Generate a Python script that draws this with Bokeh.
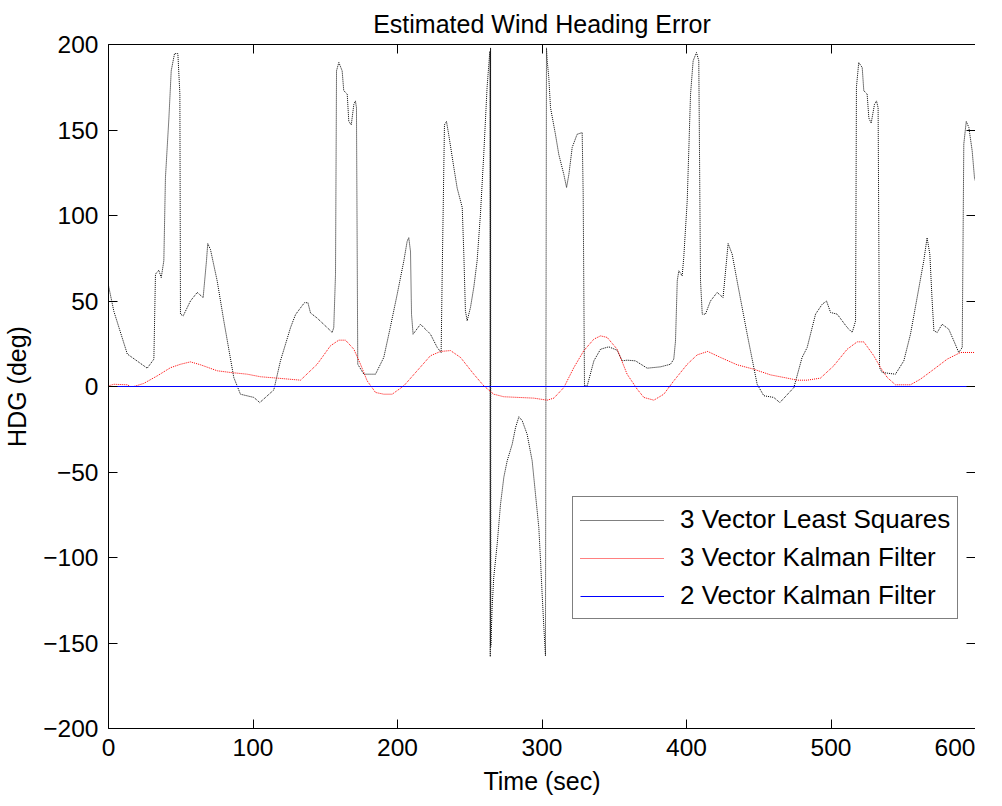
from bokeh.plotting import figure
from bokeh.models import FixedTicker, LinearAxis, Legend, LegendItem, Range1d
from bokeh.embed import file_html
from bokeh.resources import INLINE

# ---- data ----
x_ticks = [0, 100, 200, 300, 400, 500, 600]
y_ticks = [-200, -150, -100, -50, 0, 50, 100, 150, 200]

t_ls = [0, 3.7, 13, 26.8, 31.4, 32.5, 34.8, 36.5, 38.3, 39.4, 41.8, 43.4, 45.7, 48, 49.4, 49.8,
        51.7, 56.7, 61.4, 65.5, 67.8, 68.7, 70.6, 75.2, 79.8, 86.7, 91.3, 100.6, 104.7, 114.4,
        119, 126, 129.4, 132.9, 135.6, 138, 139.8, 144.4, 152.5, 154.8, 155.9, 157.1, 157.8,
        159.4, 161.7, 162.8, 165.2, 166.3, 168, 169.8, 170.9, 171.6, 172.5, 176.7, 184.8, 190.5,
        195, 199.8, 204.4, 206.7, 207.8, 209, 209.7, 210.8, 215.9, 222.8, 227.5, 230.2, 230.9,
        232.5, 233.9, 235.5, 239, 241.3, 244.8, 245.9, 247, 248.2, 250.5, 252.8, 255.1, 257.4,
        259.7, 262, 263.9, 264.2, 264.4, 264.6, 265.5, 266.6, 269, 271.3, 273.6, 275.9, 279.4,
        281.7, 284, 286.3, 289.7, 293.2, 295.5, 297.8, 299, 300.1, 301.3, 302.4, 303.1, 303.6,
        304.7, 305.9, 309.3, 311.6, 315.1, 317, 318.6, 320.9, 324.3, 327.8, 328.5, 329.4, 331.3,
        335.9, 340.5, 346.2, 352, 355.5, 358.9, 364.7, 372.8, 382, 388.9, 391.2, 392.4, 393.6,
        394.7, 397, 398.1, 400.5, 402.8, 404.6, 406.9, 408.5, 409.7, 410.9, 413.1, 416.6, 421.2,
        425.3, 427.7, 428.8, 431.6, 435, 442, 448.9, 453.5, 460.4, 464.6, 474.3, 480, 483.5,
        489.3, 493.9, 496.9, 499.7, 504.3, 511.2, 514.7, 517, 517.6, 519.2, 521.6, 522.7, 525,
        526.2, 527.8, 530.1, 531.5, 532.6, 533.6, 535.4, 544.6, 550.4, 555, 559.6, 564.2, 566.5,
        568.4, 570, 571.2, 573.5, 576.9, 581.5, 585, 588.4, 590.8, 591.9, 593.6, 595.4, 597.7,
        599.3, 600]
v_ls = [59, 44, 19, 10.7, 16, 65.7, 68, 63.7, 73.6, 122, 157, 184.6, 194.7, 194.7, 171, 42.3,
        41.3, 50, 55, 52, 73.5, 83.6, 80, 61.8, 38.4, 5.3, -4.5, -6.4, -9.4, -2,
        15, 34.5, 42, 46, 49, 49, 43, 40, 33.5, 31.6, 34.5, 65.7, 184.6,
        189.5, 184.6, 173, 171, 155, 153, 165, 167, 163, 13, 7.2, 7.2, 17,
        34.5, 54, 73.5, 85, 87, 79, 42.3, 30.6, 36.4, 30.6, 22.8, 19.9, 63.7,
        153, 155, 147, 128, 116, 104.7, 77.4, 44.3, 38.4, 46.2, 58, 73.5, 100.8,
        135.8, 175, 196, -158, 198, -152, -129, -111.7, -92, -68.8, -53, -43.5, -33.7,
        -24, -17.7, -20, -27.9, -43.5, -63, -82.5, -102, -121.5, -141, -157.5, 198, 190.5,
        180.7, 163, 147.5, 135.8, 124, 116.4, 124, 139.8, 147.5, 148.5, 112.5, 0.4, 0.4,
        15, 21.8, 23.2, 21.2, 15, 15.4, 15, 10.7, 11.5, 13, 16, 26.7, 61.8,
        67.7, 64.7, 75.4, 108.6, 171, 190.5, 195.3, 190.5, 61.8, 42.3, 42.3, 50, 55,
        52, 73.5, 83.6, 77.4, 61.8, 30.6, 1.3, -5.4, -6.4, -9.4, -0.6, 17, 22.8,
        42.3, 48.1, 50, 43.3, 42.3, 34.5, 31.6, 38.4, 175, 189.5, 186.5, 173, 171,
        157, 154, 165, 167, 163, 11, 8.2, 7.2, 15, 30.6, 52, 73.5, 87,
        77.4, 50, 32.6, 31.6, 36.4, 33.5, 26.7, 19.9, 22.8, 141.7, 155, 151.5, 137.8,
        122, 120]

t_kf3 = [0, 3.7, 13, 15.2, 17.5, 24.4, 33.7, 42.9, 49.8, 56.7, 63.7, 75.2, 84.4, 96, 105.2,
         116.7, 132.9, 144.4, 153.6, 159.4, 164, 169.8, 174.4, 179, 184.8, 190.5, 196.3, 204.4,
         213.6, 222.8, 229.8, 236.7, 243.6, 252.8, 259.7, 266.6, 273.6, 294.3, 303.6, 308.2,
         315.1, 322, 328.9, 335.9, 340.5, 345.1, 352, 358.9, 365.9, 370.5, 377.4, 384.3, 391.2,
         400.5, 407.4, 414.7, 423.5, 435, 446.6, 458.1, 469.7, 476.6, 483.5, 492.7, 501.9,
         511.2, 518.1, 522.7, 529.6, 534.3, 538.9, 544.6, 555, 561.9, 571.2, 580.4, 589.6, 600]
v_kf3 = [0.4, 1.3, 1, 0, 0, 1.8, 6.2, 11, 13, 14.4, 12.7, 9.2, 8.2, 7.2, 5.7,
         4.9, 3.7, 13, 23.8, 27.1, 27.1, 21.8, 13, 3.3, -3.5, -4.5, -4.5, 0.4,
         9.2, 18, 20.5, 21, 17, 7.2, 0.4, -4.5, -6, -6.8, -8, -6.8,
         -0.6, 11, 20.9, 27.7, 29.6, 28.7, 21.8, 7.2, -1.6, -6.4, -8, -4.5, 3.3,
         13, 18.5, 20.5, 17, 12.7, 10.1, 6.8, 4.9, 3.7, 3.7, 4.9, 12.1,
         21.8, 26.1, 26.1, 18, 11, 5.3, 1, 1, 4.3, 10.1, 16, 19.9, 19.9]

t_kf2 = [0, 600]
v_kf2 = [0, 0]

labels = ["3 Vector Least Squares", "3 Vector Kalman Filter", "2 Vector Kalman Filter"]

FONT = "Liberation Sans"

p = figure(frame_width=867, frame_height=684,
           x_range=Range1d(0, 600), y_range=Range1d(-200, 200),
           output_backend="svg", toolbar_location=None,
           min_border_left=0, min_border_right=0,
           min_border_top=0, min_border_bottom=0,
           title="Estimated Wind Heading Error")

p.title.text_font = FONT
p.title.text_font_size = "25px"
p.title.text_font_style = "normal"
p.title.align = "center"
p.title.text_color = "black"
p.title.standoff = 14

p.xgrid.visible = False
p.ygrid.visible = False
p.outline_line_color = None
p.background_fill_color = "white"

def style_axis(ax, show_labels=True):
    ax.major_tick_in = 9
    ax.major_tick_out = 0
    ax.minor_tick_line_color = None
    ax.axis_line_color = "black"
    ax.major_tick_line_color = "black"
    ax.major_label_text_font = FONT
    ax.major_label_text_color = "black"
    ax.axis_label_text_font = FONT
    ax.axis_label_text_font_style = "normal"
    ax.axis_label_text_color = "black"
    if show_labels:
        ax.major_label_text_font_size = "24.5px"
        ax.axis_label_text_font_size = "25px"
    else:
        ax.major_label_text_font_size = "1px"
        ax.major_label_text_color = None
        ax.major_label_standoff = 0

p.xaxis.ticker = FixedTicker(ticks=x_ticks)
p.yaxis.ticker = FixedTicker(ticks=y_ticks)
p.xaxis.axis_label = "Time (sec)"
p.yaxis.axis_label = "HDG (deg)"
for ax in p.xaxis + p.yaxis:
    style_axis(ax)
p.xaxis.major_label_standoff = 10
p.xaxis.axis_label_standoff = 8
p.yaxis.major_label_standoff = 10
p.yaxis.axis_label_standoff = 9

top_ax = LinearAxis(ticker=FixedTicker(ticks=x_ticks))
right_ax = LinearAxis(ticker=FixedTicker(ticks=y_ticks))
style_axis(top_ax, False)
style_axis(right_ax, False)
p.add_layout(top_ax, "above")
p.add_layout(right_ax, "right")

r1 = p.line(t_ls, v_ls, line_color="#000000", line_width=1, line_dash="1 1")
r2 = p.line(t_kf3, v_kf3, line_color="#ff0000", line_width=1, line_dash="1 1")
r3 = p.line(t_kf2, v_kf2, line_color="#0000ff", line_width=1)

legend = Legend(items=[LegendItem(label=labels[0], renderers=[r1]),
                       LegendItem(label=labels[1], renderers=[r2]),
                       LegendItem(label=labels[2], renderers=[r3])],
                location=(464, 109))
legend.label_text_font = FONT
legend.label_text_font_size = "26px"
legend.label_text_color = "black"
legend.glyph_width = 84
legend.glyph_height = 30
legend.label_height = 30
legend.label_standoff = 16
legend.padding = 7
legend.spacing = 7
legend.margin = 0
legend.border_line_color = "black"
legend.border_line_width = 1
legend.background_fill_color = "white"
legend.background_fill_alpha = 1.0
p.add_layout(legend)

open("out.html", "w").write(file_html(p, INLINE))
